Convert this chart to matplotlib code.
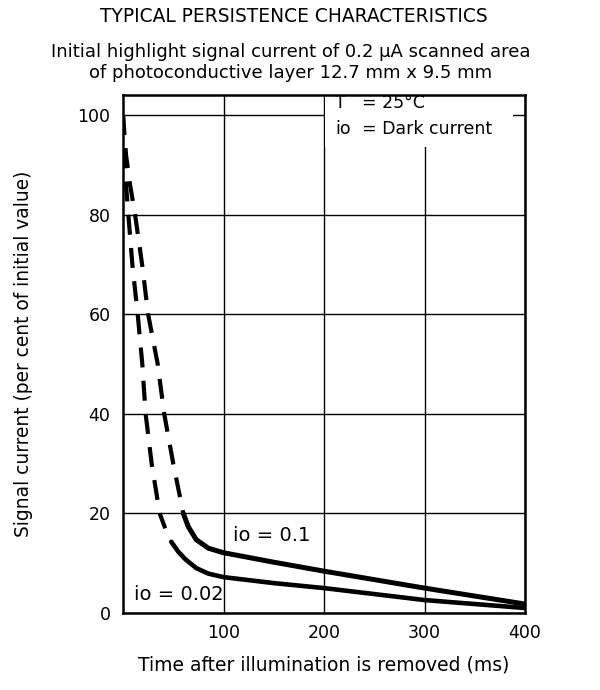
import matplotlib
matplotlib.use("Agg")
import matplotlib.pyplot as plt
from matplotlib.patches import Rectangle

# curve io = 0.1 (upper)
t_hi_dash = [0, 3, 7, 12, 19, 25, 34.5, 41, 50, 60]
s_hi_dash = [100, 92, 86, 80, 70, 60, 50, 40, 30, 20]
t_hi_solid = [60, 65, 73, 85, 100, 150, 200, 250, 300, 350, 400]
s_hi_solid = [20, 17.3, 14.7, 13, 12.1, 10.2, 8.4, 6.7, 5.0, 3.4, 1.8]

# curve io = 0.02 (lower)
t_lo_dash = [0, 1.5, 3, 5.3, 9.3, 14.6, 19.2, 22.5, 28.5, 36.5, 42]
s_lo_dash = [100, 92, 86, 80, 70, 60, 50, 40, 30, 20, 17]
t_lo_solid = [48, 55, 62, 73, 85, 100, 150, 200, 250, 300, 350, 400]
s_lo_solid = [14.3, 12.3, 10.8, 9, 7.9, 7.2, 6.0, 5.0, 3.8, 2.6, 1.8, 1.0]

x_ticks = [100, 200, 300, 400]
y_ticks = [0, 20, 40, 60, 80, 100]

plt.rcParams['font.family'] = 'DejaVu Sans'

fig = plt.figure(figsize=(6, 6.9), dpi=100)
ax = fig.add_axes([0.205, 0.1116, 0.67, 0.7507])

ax.plot(t_hi_dash, s_hi_dash, color='black', lw=3, dashes=(4.8, 3.2), zorder=3)
ax.plot(t_lo_dash, s_lo_dash, color='black', lw=3, dashes=(4.8, 3.2), zorder=3)
ax.plot(t_hi_solid, s_hi_solid, color='black', lw=3.6, solid_capstyle='round', zorder=3)
ax.plot(t_lo_solid, s_lo_solid, color='black', lw=3.3, solid_capstyle='round', zorder=3)

ax.set_xlim(0, 400)
ax.set_ylim(0, 104)
ax.set_xticks(x_ticks)
ax.set_yticks(y_ticks)
ax.tick_params(length=0, labelsize=12.5)
ax.tick_params(axis='y', pad=9)
ax.tick_params(axis='x', pad=8)
ax.set_axisbelow(True)
ax.grid(True, color='black', lw=1)
for sp in ax.spines.values():
    sp.set_linewidth(1.8)

# white box behind the note in the top right
ax.add_patch(Rectangle((201, 93.5), 187, 10.5, facecolor='white', edgecolor='none', zorder=1))
ax.text(211, 102.4, 'T', fontsize=12.5, va='center', zorder=4)
ax.text(238, 102.4, '= 25°C', fontsize=12.5, va='center', zorder=4)
ax.text(211, 97.2, 'io', fontsize=12.5, va='center', zorder=4)
ax.text(238, 97.2, '= Dark current', fontsize=12.5, va='center', zorder=4)

ax.text(109, 15.5, 'io = 0.1', fontsize=14, va='center')
ax.text(11, 3.7, 'io = 0.02', fontsize=14, va='center')

fig.text(0.49, 0.976, 'TYPICAL PERSISTENCE CHARACTERISTICS', fontsize=13.4,
         ha='center', va='center')
fig.text(0.485, 0.909, 'Initial highlight signal current of 0.2 μA scanned area\n'
         'of photoconductive layer 12.7 mm x 9.5 mm', fontsize=13,
         ha='center', va='center', linespacing=1.2)
ax.set_xlabel('Time after illumination is removed (ms)', fontsize=13.5, labelpad=10)
ax.set_ylabel('Signal current (per cent of initial value)', fontsize=13.4, labelpad=32)

fig.savefig('out.png', dpi=100)
